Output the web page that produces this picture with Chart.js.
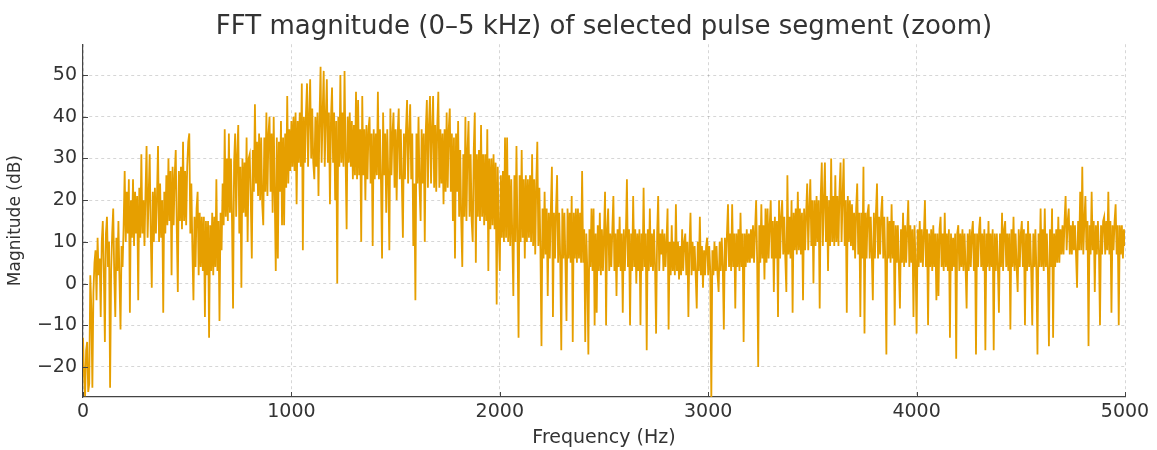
<!DOCTYPE html>
<html>
<head>
<meta charset="utf-8">
<script src="https://cdn.jsdelivr.net/npm/chart.js@4/dist/chart.umd.min.js"></script>
<style>
  html, body { margin: 0; padding: 0; background: #fff; }
  #fft-chart { display: block; }
</style>
</head>
<body>
<canvas id="fft-chart" width="1157" height="450"></canvas>
<script>
// Magnitude (dB) per 5 Hz bin, one array per kHz
const binHz = 5;
const mag0k = [
    -13, -22, -27, -16, -14, -26, -24, 2, -6, -25, -2, 5, 8, -4, 11, 2, 6, -8, 10, 15,
    3, -14, 12, 16, 4, 10, -25, 3, 12, 18, 2, -8, 11, 3, 15, 1, -11, 9, 4, 14,
    27, 10, 22, 12, 25, -7, 20, 11, 25, 9, 22, 12, 21, -4, 23, 11, 31, 12, 20, 9,
    22, 33, 11, 21, 31, 12, -1, 22, 10, 23, 12, 21, 33, 10, 24, 11, 20, -7, 22, 12,
    26, 14, 30, 15, 27, 2, 28, 14, 26, 32, 13, -2, 27, 15, 28, 13, 34, 15, 27, 14,
    28, 34, 36, 12, 24, 8, -4, 16, 4, 18, 22, 2, 17, 4, 16, 3, 16, -8, 15, 2,
    15, -13, 14, 3, 17, 2, 16, 4, 25, 3, 15, -9, 17, 8, 24, 14, 37, 16, 30, 15,
    36, 17, 30, 15, -6, 29, 36, 16, 31, 38, 12, 28, -1, 30, 17, 29, 16, 35, 10, 30,
    31, 20, 6, 32, 22, 43, 24, 34, 21, 36, 20, 35, 19, 14, 35, 22, 41, 21, 36, 40,
    22, 36, 17, 40, 21, 3, 35, 6, 34, 22, 39, 14, 35, 14, 36, 23, 45, 24, 37, 27
];
const mag1k = [
    39, 28, 40, 27, 41, 19, 39, 29, 41, 28, 48, 8, 40, 29, 41, 48, 28, 40, 49, 30,
    42, 29, 25, 40, 28, 41, 21, 40, 52, 29, 41, 51, 28, 40, 49, 29, 41, 19, 40, 47,
    29, 41, 20, 39, 0, 40, 28, 50, 29, 41, 28, 51, 30, 13, 40, 29, 41, 28, 39, 25,
    38, 26, 46, 25, 44, 26, 37, 10, 45, 26, 37, 20, 38, 25, 37, 40, 24, 36, 9, 37,
    25, 36, 26, 46, 25, 37, 24, 6, 41, 26, 36, 17, 37, 25, 8, 42, 26, 36, 41, 23,
    37, 20, 36, 42, 25, 37, 24, 11, 36, 25, 37, 44, 24, 36, 43, 25, 36, 9, 24, -4,
    36, 24, 40, 23, 15, 37, 24, 36, 10, 37, 44, 23, 38, 45, 24, 37, 45, 23, 38, 22,
    38, 46, 23, 37, 24, 36, 19, 37, 22, 41, 23, 37, 42, 22, 36, 15, 35, 6, 36, 22,
    39, 16, 32, 15, 4, 31, 16, 40, 15, 32, 39, 16, 31, 15, 10, 32, 41, 5, 31, 16,
    32, 15, 38, 16, 31, 14, 31, 15, 37, 3, 30, 13, 30, 14, 31, 13, 29, -5, 28, 12
];
const mag2k = [
    3, 26, 11, 27, 10, 35, 11, 35, 10, 26, 9, 25, 11, -3, 26, 10, 33, 11, -13, 26,
    10, 32, 11, 25, 6, 26, 10, 25, 11, 26, 10, 31, 9, 25, 7, 24, 34, 9, 23, 8,
    -15, 18, 6, 22, 7, 18, -3, 17, 6, 18, 28, -8, 17, 6, 18, 26, 5, 17, 6, -16,
    18, 6, 17, 5, -9, 18, 6, 17, 5, 21, -14, 17, 6, 18, 5, 18, 6, 17, 5, 27,
    5, 13, -14, 12, 3, -17, 13, 4, 18, 3, 18, -10, 12, -7, 14, 3, 17, 2, 13, 3,
    12, 22, -10, 13, 18, 3, 12, 4, 13, 21, 3, 12, -3, 13, 4, 16, 3, 12, -7, 13,
    3, 12, 25, 4, 13, -10, 12, 3, 21, 4, 13, 0, 12, 3, 13, -10, 12, 3, 23, 4,
    12, -16, 13, 3, 18, 4, 12, 3, 13, 4, -12, 12, 21, 3, 12, 7, 13, 3, 12, 4,
    10, 18, -11, 10, 2, 14, 3, 10, 2, 19, 3, 10, 1, 9, 2, 13, 3, 10, 12, 2,
    10, -8, 9, 17, 2, 10, 3, 9, 2, -6, 10, 3, 16, 2, 9, -1, 8, 2, 9, 11
];
const mag3k = [
    2, 9, 3, -28, 8, 2, 10, 3, 9, 2, -2, 10, 3, 11, 4, -11, 11, 3, 12, 19,
    4, 12, 3, 19, 4, 12, -6, 12, 4, 13, 3, 17, 4, 12, -14, 12, 4, 13, 5, 12,
    5, 13, 6, 14, 5, 13, 20, 5, -20, 14, 5, 19, 6, 14, 1, 18, 5, 18, 6, 14,
    20, 6, 15, -2, 16, 6, 15, -8, 20, 6, 16, 20, 7, 16, 6, -2, 26, 7, 16, 6,
    20, -7, 17, 8, 18, 7, 22, 8, 18, 7, 17, -4, 18, 8, 17, 24, 8, 18, 25, 9,
    20, 0, 20, 9, 21, 10, 20, -6, 21, 29, 9, 20, 29, 10, 21, 3, 20, 9, 30, 10,
    21, 9, 26, 10, 21, 9, 22, 29, 10, 21, 30, 9, 20, -7, 21, 10, 20, 9, 19, 8,
    17, 6, 18, 24, 7, 17, -8, 17, 6, 28, -12, 17, 6, 17, 19, 6, 16, 7, -4, 17,
    6, 17, 24, 6, 16, 7, 17, 21, 6, 16, 5, -17, 16, 6, 15, 5, 19, 6, 15, -10,
    14, 5, 14, 4, -6, 13, 5, 17, 4, 14, 5, 13, 20, 4, 14, 5, 13, -8, 14, 5
];
const mag4k = [
    -12, 13, 4, 15, 5, 13, 4, 12, 20, 4, 13, -10, 12, 4, 13, 3, 14, 4, 12, -4,
    12, -3, 13, 16, 4, 12, 3, 17, 4, 12, 3, 13, -13, 12, 3, 11, 4, 12, -18, 12,
    14, 3, 12, 4, 13, 3, 12, 4, -6, 12, 3, 13, 4, 12, 15, 3, 12, -17, 12, 4,
    13, 16, 4, 12, 3, 13, -16, 12, 4, 15, 3, 12, 4, 13, -16, 12, 3, 12, 4, -7,
    12, 4, 17, 3, 13, 15, 4, 12, 3, 12, -11, 13, 4, 16, 3, 12, 4, -2, 13, 4,
    12, 15, 4, 13, -10, 12, 3, 15, 4, 12, 3, -10, 12, 4, 13, 3, -17, 12, 4, 18,
    4, 13, 3, 18, 4, 12, 3, -15, 13, 4, 18, -13, 12, 4, 13, 5, 16, 5, 13, 7,
    14, 7, 15, 21, 8, 15, 18, 7, 14, 7, 15, 8, 14, 7, -1, 15, 8, 22, 8, 28,
    7, 15, 21, 8, 15, -15, 14, 7, 22, 8, 15, -2, 14, 7, 15, 8, -10, 14, 7, 15,
    16, 7, 15, 8, 22, 7, 15, -7, 14, 8, 15, 19, 7, 14, -10, 14, 7, 14, 6, 13,
    9
];

const xTicks = [0, 1000, 2000, 3000, 4000, 5000];
const yTicks = [-20, -10, 0, 10, 20, 30, 40, 50];

document.addEventListener('DOMContentLoaded', function() {
    const mags = [].concat(mag0k, mag1k, mag2k, mag3k, mag4k);
    const points = mags.map((m, i) => ({ x: i * binHz, y: m }));

    const axisColor = '#444';
    const gridColor = 'rgba(0, 0, 0, 0.16)';
    const textColor = '#333';
    const fontFamily = '"DejaVu Sans", sans-serif';

    // small tick marks pointing into the plot, like the original
    const innerTicks = {
        id: 'innerTicks',
        afterDraw(chart) {
            const ctx = chart.ctx;
            const area = chart.chartArea;
            const xs = chart.scales.x;
            const ys = chart.scales.y;
            ctx.save();
            ctx.strokeStyle = axisColor;
            ctx.lineWidth = 1;
            ctx.beginPath();
            xTicks.forEach(v => {
                const px = Math.round(xs.getPixelForValue(v)) + 0.5;
                ctx.moveTo(px, area.bottom);
                ctx.lineTo(px, area.bottom - 5);
            });
            yTicks.forEach(v => {
                const py = Math.round(ys.getPixelForValue(v)) + 0.5;
                ctx.moveTo(area.left, py);
                ctx.lineTo(area.left + 5, py);
            });
            ctx.stroke();
            ctx.restore();
        }
    };

    const ctx = document.getElementById('fft-chart').getContext('2d');
    new Chart(ctx, {
        type: 'line',
        data: {
            datasets: [{
                label: 'FFT magnitude',
                data: points,
                borderColor: '#E69F00',
                borderWidth: 1.8,
                pointRadius: 0,
                tension: 0,
                fill: false
            }]
        },
        options: {
            responsive: false,
            animation: false,
            layout: { padding: { left: 0, right: 32, top: 0, bottom: 0 } },
            plugins: {
                legend: { display: false },
                tooltip: { enabled: false },
                title: {
                    display: true,
                    fullSize: false,
                    text: 'FFT magnitude (0–5 kHz) of selected pulse segment (zoom)',
                    color: textColor,
                    font: { family: fontFamily, size: 26, weight: 'normal' },
                    padding: { top: 12, bottom: 1 }
                }
            },
            scales: {
                x: {
                    type: 'linear',
                    min: 0,
                    max: 5000,
                    afterBuildTicks: function(scale) {
                        scale.ticks = xTicks.map(v => ({ value: v }));
                    },
                    afterFit: function(scale) {
                        scale.height = 53;
                    },
                    ticks: {
                        color: textColor,
                        font: { family: fontFamily, size: 19 },
                        padding: 4,
                        maxRotation: 0,
                        callback: function(value) {
                            return String(value);
                        }
                    },
                    grid: {
                        color: gridColor,
                        drawTicks: false
                    },
                    border: { color: axisColor, width: 1.2, dash: [3, 3] },
                    title: {
                        display: true,
                        text: 'Frequency (Hz)',
                        color: textColor,
                        font: { family: fontFamily, size: 19 },
                        padding: { top: 0, bottom: 1 }
                    }
                },
                y: {
                    type: 'linear',
                    min: -27.2,
                    max: 57.4,
                    afterBuildTicks: function(scale) {
                        scale.ticks = yTicks.map(v => ({ value: v }));
                    },
                    afterFit: function(scale) {
                        scale.width = 83;
                    },
                    ticks: {
                        color: textColor,
                        font: { family: fontFamily, size: 19 },
                        padding: 6,
                        callback: function(value) {
                            return value < 0 ? '\u2212' + Math.abs(value) : String(value);
                        }
                    },
                    grid: {
                        color: gridColor,
                        drawTicks: false
                    },
                    border: { color: axisColor, width: 1.2, dash: [3, 3] },
                    title: {
                        display: true,
                        text: 'Magnitude (dB)',
                        color: textColor,
                        font: { family: fontFamily, size: 17 },
                        padding: { top: 5, bottom: 0 }
                    }
                }
            }
        },
        plugins: [innerTicks]
    });
});
</script>
</body>
</html>
